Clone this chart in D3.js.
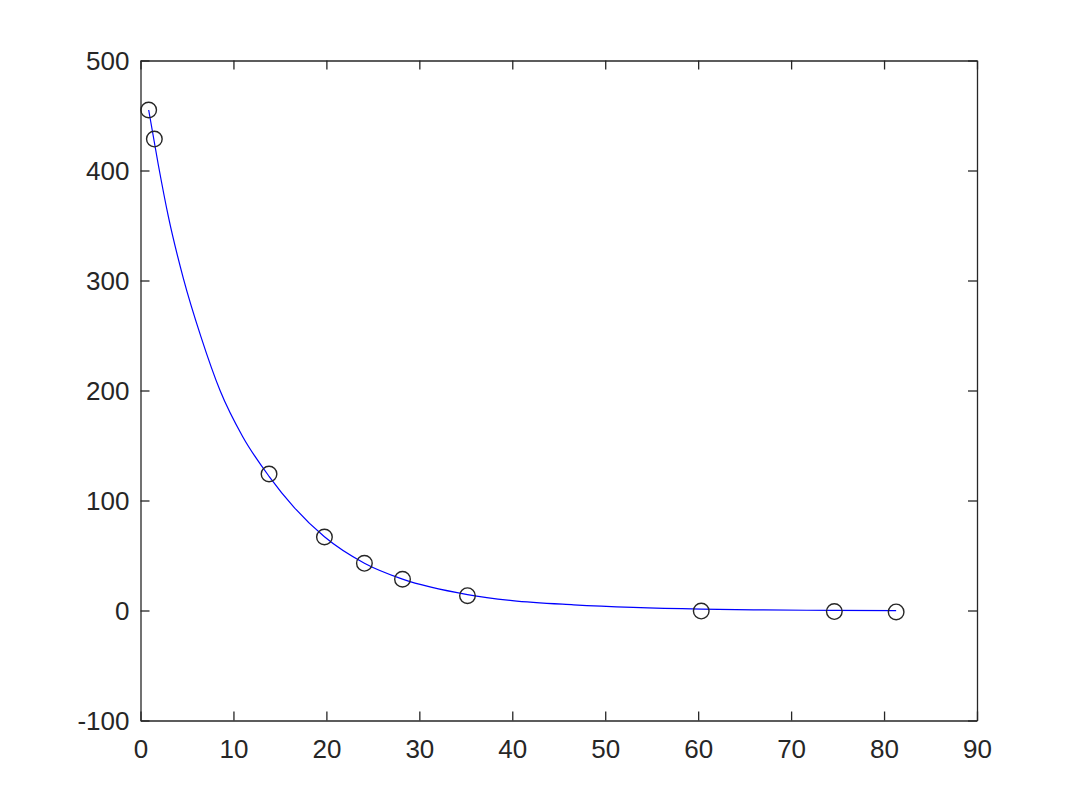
<!DOCTYPE html>
<html>
<head>
<meta charset="utf-8">
<script src="https://cdn.jsdelivr.net/npm/d3@7"></script>
<style>
  html, body { margin: 0; padding: 0; background: #fff; }
  svg { display: block; }
  text { font-family: "Liberation Sans", Arial, Helvetica, sans-serif; }
</style>
</head>
<body>
<svg id="chart" width="1080" height="810"></svg>
<script>
// Observed data points
const pointX = [0.88, 1.49, 13.83, 19.79, 24.09, 28.19, 35.18, 60.33, 74.65, 81.3];
const pointY = [455, 428.6, 124.1, 66.8, 42.9, 28.4, 13.5, -0.5, -1.0, -1.3];

// Fitted curve
const curveX = [0.88, 1.92, 3.0, 4.61, 6.5, 8.56, 11.0, 13.83, 16.5, 19.79, 24.09, 28.19, 35.18, 40.0, 46.6, 53.0, 60.33, 67.0, 74.65, 81.3];
const curveY = [455, 405, 358, 302, 249, 200, 158, 122, 94, 67, 43, 28.5, 14.5, 9.0, 5.2, 2.8, 1.2, 0.5, 0.1, -0.1];

const xTicks = [0, 10, 20, 30, 40, 50, 60, 70, 80, 90];
const yTicks = [-100, 0, 100, 200, 300, 400, 500];

const xDomain = [0, 90];
const yDomain = [-100, 500];

const svg = d3.select("#chart");
const L = 140.5, R = 977, T = 60.5, B = 720.5;
const axisColor = "#262626";

const x = d3.scaleLinear().domain(xDomain).range([L, R]);
const y = d3.scaleLinear().domain(yDomain).range([B, T]);

const tickLen = 9;
const fmt = d => String(d); // plain hyphen-minus like the reference

// Bottom axis
const gB = svg.append("g").attr("transform", `translate(0,${B})`)
  .call(d3.axisBottom(x).tickValues(xTicks).tickSizeInner(-tickLen).tickSizeOuter(0).tickPadding(19).tickFormat(fmt));
// Top axis (ticks only)
const gT = svg.append("g").attr("transform", `translate(0,${T})`)
  .call(d3.axisTop(x).tickValues(xTicks).tickSizeInner(-tickLen).tickSizeOuter(0).tickFormat(""));
// Left axis
const gL = svg.append("g").attr("transform", `translate(${L},0)`)
  .call(d3.axisLeft(y).tickValues(yTicks).tickSizeInner(-tickLen).tickSizeOuter(0).tickPadding(11).tickFormat(fmt));
// Right axis (ticks only)
const gR = svg.append("g").attr("transform", `translate(${R},0)`)
  .call(d3.axisRight(y).tickValues(yTicks).tickSizeInner(-tickLen).tickSizeOuter(0).tickFormat(""));

[gB, gT, gL, gR].forEach(g => {
  g.selectAll(".domain").attr("stroke", axisColor).attr("stroke-width", 1.3);
  g.selectAll(".tick line").attr("stroke", axisColor).attr("stroke-width", 1.3);
  g.selectAll(".tick text").attr("fill", axisColor).style("font-size", "26px")
    .style("font-family", "'Liberation Sans', Arial, Helvetica, sans-serif");
});
gB.selectAll(".tick text").attr("dy", "0.71em");
gL.selectAll(".tick text").attr("dy", "0.36em");

// Curve
const curveData = curveX.map((v, i) => [v, curveY[i]]);
svg.append("path")
  .datum(curveData)
  .attr("fill", "none")
  .attr("stroke", "#0000ff")
  .attr("stroke-width", 1.2)
  .attr("d", d3.line().x(d => x(d[0])).y(d => y(d[1])).curve(d3.curveMonotoneX));

// Points
const pts = pointX.map((v, i) => [v, pointY[i]]);
svg.append("g").selectAll("circle")
  .data(pts)
  .join("circle")
  .attr("cx", d => x(d[0]))
  .attr("cy", d => y(d[1]))
  .attr("r", 7.8)
  .attr("fill", "none")
  .attr("stroke", "#262626")
  .attr("stroke-width", 1.4);
</script>
</body>
</html>
